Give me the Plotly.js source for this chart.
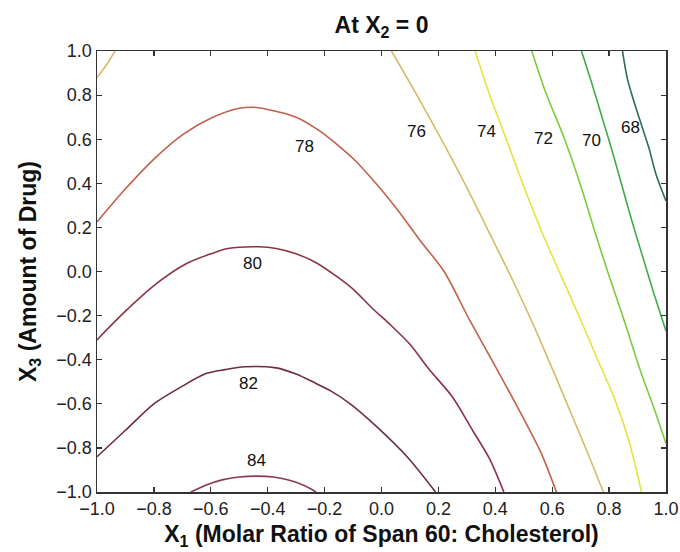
<!DOCTYPE html>
<html>
<head>
<meta charset="utf-8">
<script src="https://cdn.plot.ly/plotly-3.0.1.min.js"></script>
<style>
html,body{margin:0;padding:0;background:#fff;}
#chart{width:680px;height:552px;}
</style>
</head>
<body>
<div id="chart"></div>
<script>
// Contour levels (one entry per drawn line piece)
const levels = [84, 82, 80, 78, 76, 76, 74, 72, 70, 68];

// Contour lines (x = X1, y = X3)
const c84x = [-0.67, -0.62, -0.56, -0.50, -0.44, -0.38, -0.32, -0.27, -0.23];
const c84y = [-1.0, -0.97, -0.945, -0.932, -0.928, -0.932, -0.948, -0.972, -1.0];

const c82x = [-1.0, -0.90, -0.80, -0.70, -0.615, -0.55, -0.48, -0.37, -0.30, -0.23, -0.18, -0.11, -0.02, 0.09, 0.19];
const c82y = [-0.84, -0.72, -0.60, -0.52, -0.462, -0.445, -0.432, -0.437, -0.465, -0.508, -0.54, -0.60, -0.70, -0.84, -1.0];

const c80x = [-1.0, -0.90, -0.79, -0.685, -0.60, -0.54, -0.43, -0.37, -0.30, -0.23, -0.16, -0.10, -0.03, 0.03, 0.10, 0.165, 0.25, 0.32, 0.38, 0.43];
const c80y = [-0.31, -0.18, -0.054, 0.036, 0.08, 0.104, 0.112, 0.104, 0.08, 0.04, -0.02, -0.08, -0.17, -0.24, -0.33, -0.44, -0.57, -0.72, -0.85, -1.0];

const c78x = [-1.0, -0.90, -0.80, -0.70, -0.60, -0.50, -0.45, -0.40, -0.30, -0.22, -0.16, -0.09, -0.02, 0.05, 0.135, 0.22, 0.31, 0.40, 0.48, 0.56, 0.615];
const c78y = [0.225, 0.375, 0.51, 0.62, 0.695, 0.74, 0.745, 0.735, 0.70, 0.64, 0.58, 0.50, 0.40, 0.29, 0.142, 0.0, -0.221, -0.43, -0.62, -0.82, -1.0];

const c76ax = [-1.0, -0.965, -0.937];
const c76ay = [0.88, 0.94, 1.0];

const c76x = [0.035, 0.12, 0.21, 0.30, 0.385, 0.465, 0.54, 0.61, 0.675, 0.73, 0.78];
const c76y = [1.0, 0.81, 0.60, 0.38, 0.16, -0.05, -0.26, -0.47, -0.67, -0.84, -1.0];

const c74x = [0.329, 0.375, 0.44, 0.505, 0.57, 0.635, 0.70, 0.76, 0.82, 0.87, 0.914];
const c74y = [1.0, 0.82, 0.595, 0.37, 0.16, -0.03, -0.22, -0.40, -0.58, -0.77, -1.0];

const c72x = [0.528, 0.575, 0.645, 0.705, 0.75, 0.80, 0.855, 0.91, 0.955, 1.0];
const c72y = [1.0, 0.82, 0.595, 0.37, 0.18, -0.02, -0.23, -0.45, -0.61, -0.78];

const c70x = [0.703, 0.74, 0.775, 0.81, 0.845, 0.88, 0.915, 0.955, 1.0];
const c70y = [1.0, 0.85, 0.70, 0.55, 0.39, 0.23, 0.08, -0.09, -0.27];

const c68x = [0.847, 0.865, 0.89, 0.915, 0.94, 0.965, 1.0];
const c68y = [1.0, 0.87, 0.76, 0.66, 0.56, 0.44, 0.32];

// Contour label texts and where they sit
const labelText = ['84', '82', '80', '78', '76', '74', '72', '70', '68'];
const labelX = [-0.439, -0.468, -0.452, -0.269, 0.124, 0.370, 0.569, 0.739, 0.874];
const labelY = [-0.855, -0.508, 0.038, 0.565, 0.633, 0.633, 0.603, 0.595, 0.652];

// Axis ticks
const tickVals = [-1.0, -0.8, -0.6, -0.4, -0.2, 0.0, 0.2, 0.4, 0.6, 0.8, 1.0];
const tickText = ['\u22121.0', '\u22120.8', '\u22120.6', '\u22120.4', '\u22120.2', '0.0', '0.2', '0.4', '0.6', '0.8', '1.0'];

const xs = [c84x, c82x, c80x, c78x, c76ax, c76x, c74x, c72x, c70x, c68x];
const ys = [c84y, c82y, c80y, c78y, c76ay, c76y, c74y, c72y, c70y, c68y];

const levelColor = {
  84: '#8a3a4e',
  82: '#6c2d43',
  80: '#8b3345',
  78: '#c2604c',
  76: '#d6bb66',
  74: '#e4e43e',
  72: '#7fca3e',
  70: '#3faa4c',
  68: '#2f6a5c'
};

const FONT = 'Liberation Sans, Arial, Helvetica, sans-serif';

const traces = xs.map((x, i) => ({
  type: 'scatter',
  mode: 'lines',
  x: x,
  y: ys[i],
  name: String(levels[i]),
  line: {color: levelColor[levels[i]], width: 1.6, shape: 'spline', smoothing: 0.8},
  hoverinfo: 'skip',
  showlegend: false
}));

const annotations = labelText.map((t, i) => ({
  x: labelX[i], y: labelY[i], xref: 'x', yref: 'y',
  text: t, showarrow: false,
  font: {family: FONT, size: 17, color: '#111'}
}));

const axisCommon = {
  range: [-1, 1],
  tickmode: 'array',
  tickvals: tickVals,
  ticktext: tickText,
  ticks: 'inside',
  ticklen: 5,
  tickwidth: 1.2,
  tickcolor: '#333',
  showline: true,
  linecolor: '#333',
  linewidth: 1.5,
  mirror: 'ticks',
  showgrid: false,
  zeroline: false,
  tickfont: {family: FONT, size: 18, color: '#222'},
  fixedrange: true
};

const layout = {
  width: 680,
  height: 552,
  margin: {l: 97, r: 14, t: 51, b: 60},
  paper_bgcolor: '#fff',
  plot_bgcolor: '#fff',
  font: {family: FONT, color: '#111'},
  title: {
    text: 'At X<sub>2</sub> = 0',
    font: {family: FONT, size: 23, weight: 'bold', color: '#111'},
    xref: 'paper', x: 0.5, xanchor: 'center',
    yref: 'container', y: 0.955, yanchor: 'middle'
  },
  xaxis: Object.assign({}, axisCommon, {
    title: {
      text: 'X<sub>1</sub> (Molar Ratio of Span 60: Cholesterol)',
      font: {family: FONT, size: 23, weight: 'bold', color: '#111'},
      standoff: 8
    }
  }),
  yaxis: Object.assign({}, axisCommon, {
    title: {
      text: 'X<sub>3</sub> (Amount of Drug)',
      font: {family: FONT, size: 23, weight: 'bold', color: '#111'},
      standoff: 13
    }
  }),
  annotations: annotations
};

Plotly.newPlot('chart', traces, layout, {staticPlot: true, displayModeBar: false});
</script>
</body>
</html>
